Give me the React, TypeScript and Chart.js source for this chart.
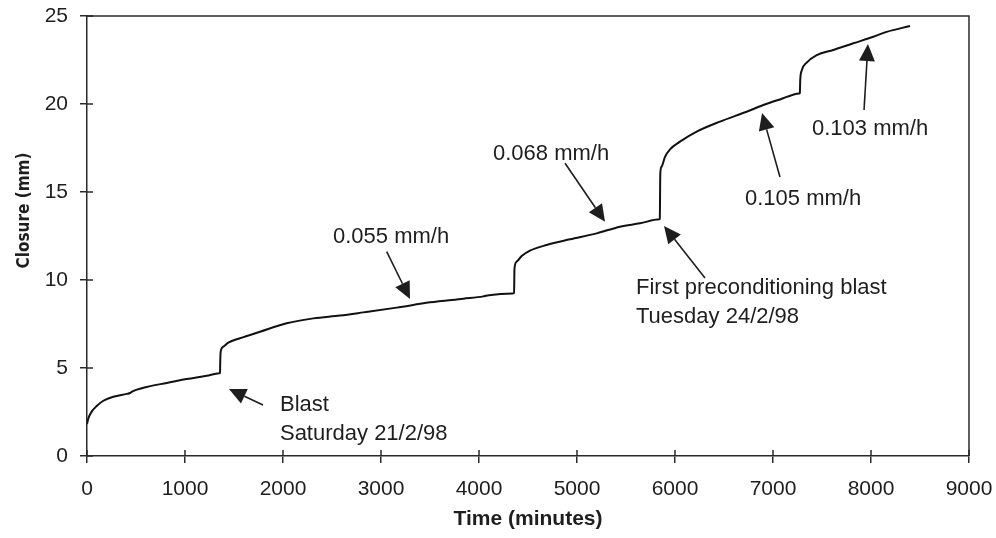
import React, { useEffect, useRef } from "react";
import { Chart, registerables } from "chart.js";

Chart.register(...registerables);

// Closure measurement: elapsed time (minutes) against closure (mm)
const timeMinutes = [
  0, 14, 48, 99, 167, 269, 405, 440, 460, 609, 813, 1017, 1221, 1350, 1357,
  1360, 1364, 1391, 1442, 1561, 1765, 2037, 2310, 2582, 2820, 3160, 3500, 3840,
  4044, 4100, 4344, 4358, 4362, 4384, 4435, 4520, 4690, 4929, 5201, 5439, 5643,
  5840, 5845, 5850, 5864, 5898, 5949, 6051, 6221, 6459, 6731, 6901, 7071, 7268,
  7274, 7278, 7293, 7344, 7446, 7615, 7820, 8024, 8160, 8398,
];
const closureMm = [
  1.82, 2.14, 2.52, 2.84, 3.14, 3.37, 3.53, 3.58, 3.66, 3.92, 4.15, 4.37, 4.56,
  4.7, 4.72, 5.45, 5.93, 6.21, 6.44, 6.69, 7.06, 7.54, 7.82, 7.98, 8.16, 8.43,
  8.73, 8.94, 9.07, 9.14, 9.24, 9.26, 10.66, 11.04, 11.36, 11.67, 11.99, 12.31,
  12.65, 13.03, 13.22, 13.45, 13.47, 16.06, 16.44, 17.0, 17.42, 17.86, 18.43,
  19.0, 19.56, 19.94, 20.26, 20.6, 20.62, 21.36, 21.9, 22.35, 22.78, 23.07,
  23.45, 23.82, 24.1, 24.43,
];

// Axis ranges and tick steps
const xRange = [0, 9000];
const xStep = 1000;
const yRange = [0, 25];
const yStep = 5;

// Annotation texts, where they sit (minutes, mm), and their arrows
const noteLines = [
  ["Blast", "Saturday 21/2/98"],
  ["0.055 mm/h"],
  ["0.068 mm/h"],
  ["First preconditioning blast", "Tuesday 24/2/98"],
  ["0.105 mm/h"],
  ["0.103 mm/h"],
];
const noteAt = [
  [1969, 2.53],
  [2510, 12.1],
  [4143, 16.82],
  [5602, 9.23],
  [6714, 14.26],
  [7398, 18.24],
];
const arrowFrom = [
  [1796, 2.9],
  [3058, 11.61],
  [4878, 16.63],
  [6306, 10.11],
  [7071, 15.85],
  [7929, 19.66],
];
const arrowTo = [
  [1449, 3.81],
  [3296, 8.92],
  [5286, 13.31],
  [5888, 13.07],
  [6888, 19.49],
  [7969, 23.41],
];

const INK = "#1e1e1e";
const AXIS = "#2a2a2a";
const SANS = "'Liberation Sans', Arial, Helvetica, sans-serif";
const NARROW = "'Liberation Sans Narrow', 'DejaVu Sans Condensed', 'Liberation Sans', Arial, sans-serif";

const framePlugin = {
  id: "frameAndNotes",
  afterDatasetsDraw(chart: any) {
    const { ctx, chartArea: a, scales } = chart;
    const xs = scales.x;
    const ys = scales.y;
    ctx.save();

    // top and right edges of the plot box
    ctx.strokeStyle = AXIS;
    ctx.lineWidth = 1.5;
    ctx.beginPath();
    ctx.moveTo(a.left, a.top);
    ctx.lineTo(a.right, a.top);
    ctx.lineTo(a.right, a.bottom);
    ctx.stroke();

    // tick marks reaching into the plot
    ctx.beginPath();
    xs.ticks.forEach((_: any, i: number) => {
      const px = xs.getPixelForTick(i);
      ctx.moveTo(px, a.bottom);
      ctx.lineTo(px, a.bottom - 6);
    });
    ys.ticks.forEach((_: any, i: number) => {
      const py = ys.getPixelForTick(i);
      ctx.moveTo(a.left, py);
      ctx.lineTo(a.left + 6, py);
    });
    ctx.stroke();

    // arrows
    ctx.strokeStyle = INK;
    ctx.fillStyle = INK;
    ctx.lineWidth = 1.6;
    arrowFrom.forEach((from, i) => {
      const to = arrowTo[i];
      const x0 = xs.getPixelForValue(from[0]);
      const y0 = ys.getPixelForValue(from[1]);
      const x1 = xs.getPixelForValue(to[0]);
      const y1 = ys.getPixelForValue(to[1]);
      const ang = Math.atan2(y1 - y0, x1 - x0);
      const headLen = 17;
      const headHalf = 8;
      const bx = x1 - headLen * Math.cos(ang);
      const by = y1 - headLen * Math.sin(ang);
      ctx.beginPath();
      ctx.moveTo(x0, y0);
      ctx.lineTo(bx, by);
      ctx.stroke();
      ctx.beginPath();
      ctx.moveTo(x1, y1);
      ctx.lineTo(bx + headHalf * Math.sin(ang), by - headHalf * Math.cos(ang));
      ctx.lineTo(bx - headHalf * Math.sin(ang), by + headHalf * Math.cos(ang));
      ctx.closePath();
      ctx.fill();
    });

    // annotation texts
    ctx.font = `22px ${SANS}`;
    ctx.textAlign = "left";
    ctx.textBaseline = "alphabetic";
    noteLines.forEach((lines, i) => {
      const px = xs.getPixelForValue(noteAt[i][0]);
      const py = ys.getPixelForValue(noteAt[i][1]);
      lines.forEach((s, k) => ctx.fillText(s, px, py + k * 29));
    });

    // vertical axis title
    ctx.font = `bold 17px ${NARROW}`;
    ctx.textAlign = "center";
    ctx.textBaseline = "middle";
    ctx.translate(a.left - 62, a.top + a.height * 0.442);
    ctx.rotate(-Math.PI / 2);
    ctx.fillText("Closure (mm)", 0, 0);

    ctx.restore();
  },
};

const plainNumber = (v: any) => String(v);

export default function App() {
  const canvasRef = useRef<HTMLCanvasElement | null>(null);

  useEffect(() => {
    const canvas = canvasRef.current;
    if (!canvas) return;
    const points = timeMinutes.map((t, i) => ({ x: t, y: closureMm[i] }));
    const chart = new Chart(canvas, {
      type: "line",
      data: {
        datasets: [
          {
            data: points,
            borderColor: "#111111",
            borderWidth: 2,
            pointRadius: 0,
            cubicInterpolationMode: "monotone",
            fill: false,
          },
        ],
      },
      options: {
        animation: false,
        responsive: false,
        devicePixelRatio: 1,
        layout: { padding: { top: 16, right: 27, bottom: 0, left: 0 } },
        plugins: {
          legend: { display: false },
          tooltip: { enabled: false },
        },
        scales: {
          x: {
            type: "linear",
            min: xRange[0],
            max: xRange[1],
            afterFit: (scale: any) => {
              scale.height = 82;
              scale.paddingLeft = 0;
              scale.paddingRight = 0;
            },
            ticks: {
              stepSize: xStep,
              maxRotation: 0,
              padding: 14,
              color: INK,
              font: { family: SANS, size: 21 },
              callback: plainNumber,
            },
            grid: {
              drawOnChartArea: false,
              drawTicks: true,
              tickLength: 7,
              color: AXIS,
              lineWidth: 1.5,
            },
            border: { display: true, color: AXIS, width: 1.5 },
            title: {
              display: true,
              text: "Time (minutes)",
              color: INK,
              font: { family: SANS, size: 21, weight: "bold" },
              padding: { top: 0, bottom: 6 },
            },
          },
          y: {
            type: "linear",
            min: yRange[0],
            max: yRange[1],
            afterFit: (scale: any) => {
              scale.width = 87;
              scale.paddingTop = 0;
              scale.paddingBottom = 0;
            },
            ticks: {
              stepSize: yStep,
              padding: 12,
              color: INK,
              font: { family: SANS, size: 21 },
              callback: plainNumber,
            },
            grid: {
              drawOnChartArea: false,
              drawTicks: true,
              tickLength: 7,
              color: AXIS,
              lineWidth: 1.5,
            },
            border: { display: true, color: AXIS, width: 1.5 },
          },
        },
      },
      plugins: [framePlugin],
    } as any);
    return () => chart.destroy();
  }, []);

  return (
    <div
      style={{
        position: "absolute",
        left: 0,
        top: 0,
        width: 996,
        height: 538,
        background: "#ffffff",
      }}
    >
      <canvas ref={canvasRef} width={996} height={538} style={{ display: "block" }} />
    </div>
  );
}
